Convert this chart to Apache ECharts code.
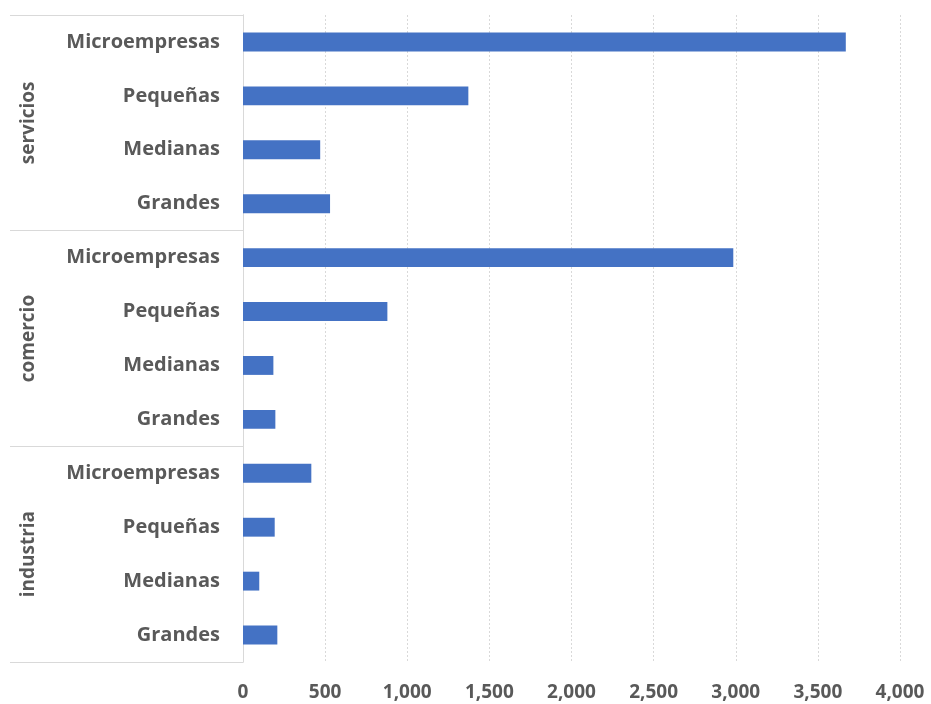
<!DOCTYPE html>
<html>
<head>
<meta charset="utf-8">
<script src="https://cdn.jsdelivr.net/npm/echarts@6/dist/echarts.min.js"></script>
<style>html,body{margin:0;padding:0;background:#fff}#c{width:931px;height:704px}</style>
</head>
<body>
<div id="c"></div>
<script>
var groups = ['servicios', 'comercio', 'industria'];
var sizes = ['Microempresas', 'Pequeñas', 'Medianas', 'Grandes'];
var serviciosValues = [3670, 1372, 470, 530];
var comercioValues = [2985, 879, 185, 197];
var industriaValues = [416, 193, 99, 209];
var xTicks = [0, 500, 1000, 1500, 2000, 2500, 3000, 3500, 4000];

var categories = [];
var values = [];
[serviciosValues, comercioValues, industriaValues].forEach(function (arr, gi) {
  sizes.forEach(function (s, i) {
    categories.push(groups[gi] + '|' + s);
    values.push(arr[i]);
  });
});

var FONT = '"Open Sans"';
var TXT = '#595959';
var LINE = '#d9d9d9';

var chart = echarts.init(document.getElementById('c'));
chart.setOption({
  animation: false,
  grid: { left: 243, right: 31, top: 15, bottom: 42, containLabel: false },
  xAxis: {
    type: 'value',
    min: xTicks[0],
    max: xTicks[xTicks.length - 1],
    interval: 500,
    axisLine: { show: false },
    axisTick: { show: false },
    splitLine: { show: true, lineStyle: { color: LINE, type: [2, 2], width: 1 } },
    axisLabel: {
      margin: 21,
      color: TXT,
      fontFamily: FONT,
      fontWeight: 'bold',
      fontSize: 19,
      formatter: function (v) { return v.toLocaleString('en-US'); }
    }
  },
  yAxis: [
    {
      type: 'category',
      data: categories,
      inverse: true,
      axisLine: { show: true, lineStyle: { color: LINE, width: 1 } },
      axisTick: { show: false },
      splitLine: { show: false },
      axisLabel: {
        margin: 23,
        color: TXT,
        fontFamily: FONT,
        fontWeight: 'bold',
        fontSize: 20,
        formatter: function (v) { return v.split('|')[1]; }
      }
    },
    {
      type: 'category',
      data: groups,
      inverse: true,
      position: 'left',
      axisLine: { show: true, lineStyle: { color: LINE, width: 1 } },
      axisTick: { show: true, length: 233, lineStyle: { color: LINE, width: 1 } },
      splitLine: { show: false },
      axisLabel: {
        rotate: 90,
        margin: 205,
        color: TXT,
        fontFamily: FONT,
        fontWeight: 'bold',
        fontSize: 19
      }
    }
  ],
  series: [{
    type: 'bar',
    yAxisIndex: 0,
    data: values,
    barWidth: '35%',
    itemStyle: { color: '#4472C4' }
  }]
});
</script>
</body>
</html>
